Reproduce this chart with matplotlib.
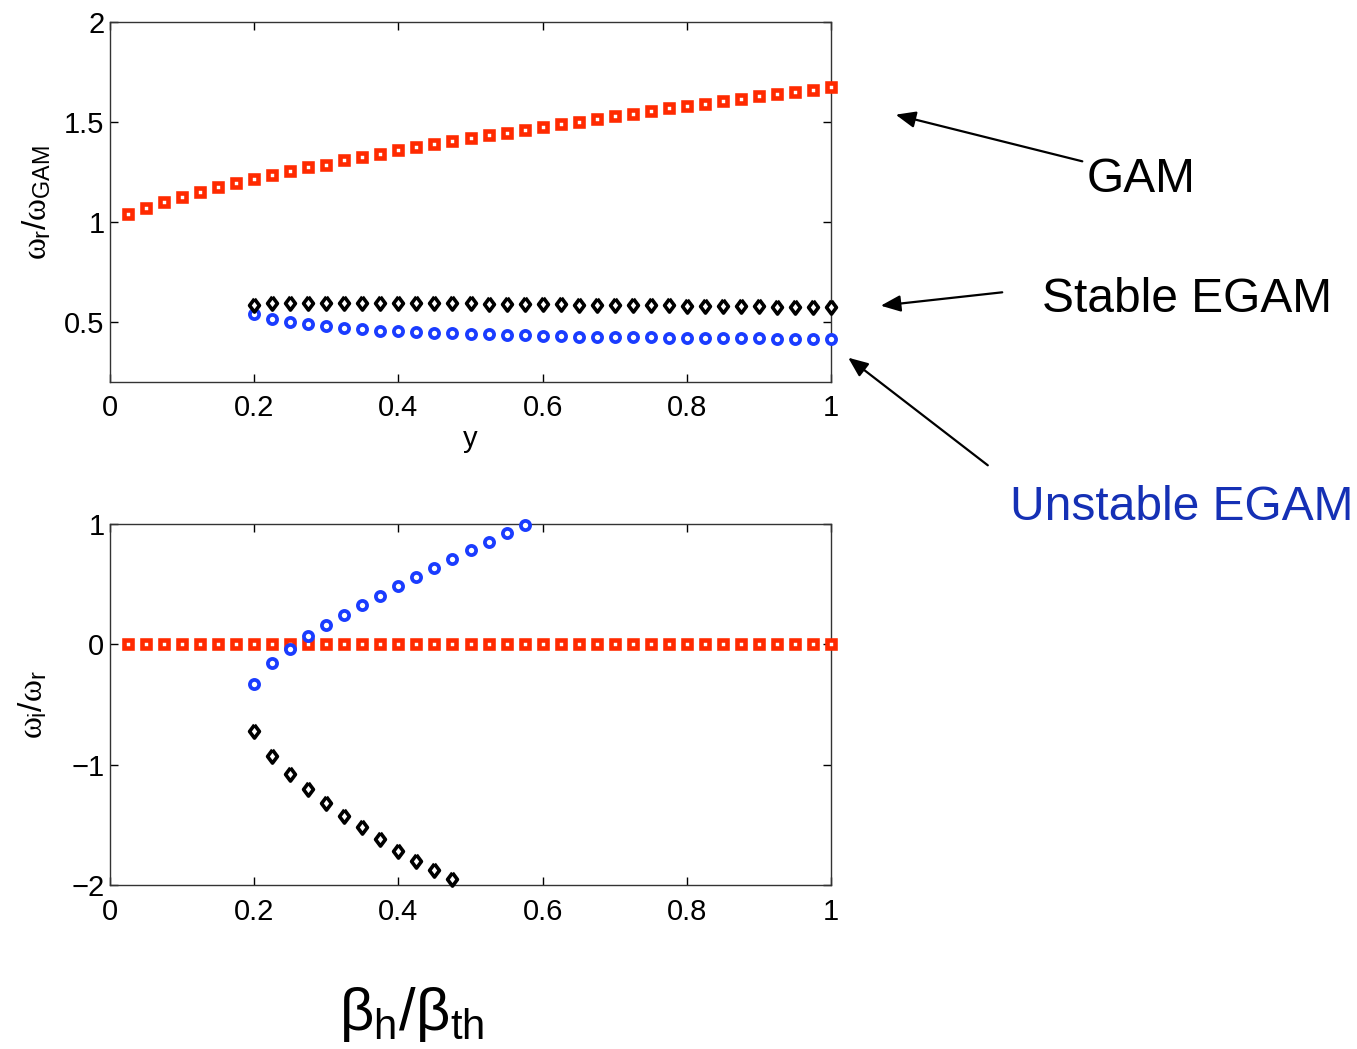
import matplotlib

matplotlib.use("Agg")
import matplotlib.pyplot as plt  # noqa: E402
from matplotlib.patches import FancyArrowPatch  # noqa: E402

plt.rcParams["font.family"] = ["Liberation Sans", "DejaVu Sans"]
# upright omega, sans subscripts (MATLAB-like labels)
plt.rcParams["mathtext.fontset"] = "custom"
plt.rcParams["mathtext.rm"] = "Liberation Sans"
plt.rcParams["mathtext.it"] = "Liberation Serif"
plt.rcParams["mathtext.sf"] = "Liberation Sans"

# --- data ------------------------------------------------------------------
beta_gam = [0.025 * k for k in range(1, 41)]
gam_wr = [1.039, 1.071, 1.099, 1.127, 1.150, 1.173, 1.195, 1.215, 1.235, 1.257,
          1.273, 1.287, 1.309, 1.327, 1.340, 1.359, 1.374, 1.389, 1.404, 1.419,
          1.433, 1.447, 1.462, 1.475, 1.488, 1.502, 1.515, 1.530, 1.542, 1.555,
          1.568, 1.582, 1.592, 1.603, 1.617, 1.630, 1.640, 1.652, 1.662, 1.675]
gam_wi = [0.0] * 40

beta_egam = [0.2 + 0.025 * k for k in range(33)]
stable_wr = [0.585, 0.593, 0.597, 0.597, 0.597, 0.597, 0.597, 0.597, 0.597,
             0.597, 0.597, 0.595, 0.593, 0.592, 0.591, 0.590, 0.588, 0.588,
             0.587, 0.587, 0.586, 0.585, 0.584, 0.583, 0.582, 0.581, 0.580,
             0.579, 0.578, 0.577, 0.576, 0.575, 0.573]
unstable_wr = [0.538, 0.515, 0.500, 0.490, 0.480, 0.470, 0.463, 0.457, 0.453,
               0.450, 0.447, 0.443, 0.440, 0.438, 0.437, 0.433, 0.432, 0.428,
               0.427, 0.427, 0.425, 0.423, 0.423, 0.422, 0.422, 0.420, 0.420,
               0.418, 0.418, 0.417, 0.417, 0.417, 0.415]

beta_unstable_wi = [0.2 + 0.025 * k for k in range(16)]
unstable_wi = [-0.327, -0.158, -0.038, 0.067, 0.158, 0.244, 0.324, 0.405,
               0.482, 0.557, 0.635, 0.710, 0.781, 0.853, 0.922, 0.989]
beta_stable_wi = [0.2 + 0.025 * k for k in range(12)]
stable_wi = [-0.721, -0.928, -1.078, -1.203, -1.319, -1.424, -1.521, -1.621,
             -1.715, -1.798, -1.879, -1.953]

# --- styling -----------------------------------------------------------------
W, H = 1357, 1049
RED = "#ff2a00"
BLUE = "#1a3cff"
diamond = [(0, 1), (0.75, 0), (0, -1), (-0.75, 0), (0, 1)]
sq_kw = dict(ls="none", marker="s", ms=6.2, mew=3.3, mec=RED, mfc="white", clip_on=False, zorder=3)
ci_kw = dict(ls="none", marker="o", ms=6.6, mew=2.7, mec=BLUE, mfc="white", clip_on=False, zorder=3)
di_kw = dict(ls="none", marker=diamond, ms=9.5, mew=2.6, mec="black", mfc="white", clip_on=False, zorder=4)


def px_box(left, top, right, bottom):
    return [left / W, 1 - bottom / H, (right - left) / W, (bottom - top) / H]


def px(x, y):
    return (x / W, 1 - y / H)


def style_axes(ax):
    ax.tick_params(direction="in", length=6, width=1, top=True, right=True,
                   labelsize=21)
    ax.tick_params(axis="x", pad=9)
    ax.tick_params(axis="y", pad=4)
    for s in ax.spines.values():
        s.set_linewidth(1.0)
        s.set_color("#333333")
    ax.set_xlim(0, 1)
    ax.set_xticks([0, 0.2, 0.4, 0.6, 0.8, 1])
    ax.set_xticklabels(["0", "0.2", "0.4", "0.6", "0.8", "1"])


fig = plt.figure(figsize=(W / 100, H / 100), dpi=100)

ax1 = fig.add_axes(px_box(110, 22, 831, 382))
ax1.plot(beta_gam, gam_wr, **sq_kw)
ax1.plot(beta_egam, stable_wr, **di_kw)
ax1.plot(beta_egam, unstable_wr, **ci_kw)
style_axes(ax1)
ax1.set_ylim(0.2, 2)
ax1.set_yticks([0.5, 1, 1.5, 2])
ax1.set_yticklabels(["0.5", "1", "1.5", "2"])
ax1.set_xlabel("y", fontsize=21, labelpad=2)
ax1.set_ylabel(r"$\omega_{\mathrm{r}}/\omega_{\mathrm{GAM}}$", fontsize=24, labelpad=8)

ax2 = fig.add_axes(px_box(110, 524, 831, 885))
ax2.plot(beta_gam, gam_wi, **sq_kw)
ax2.plot(beta_unstable_wi, unstable_wi, **ci_kw)
ax2.plot(beta_stable_wi, stable_wi, **di_kw)
style_axes(ax2)
ax2.set_ylim(-2, 1)
ax2.set_yticks([-2, -1, 0, 1])
ax2.set_yticklabels(["\u22122", "\u22121", "0", "1"])
ax2.set_ylabel(r"$\omega_{\mathrm{i}}/\omega_{\mathrm{r}}$", fontsize=24, labelpad=16)

fig.text(*px(412, 1015), r"$\mathrm{\beta_{h}/\beta_{th}}$",
         fontsize=43, ha="center", va="center")

# annotations
fig.text(*px(1087, 180), "GAM", fontsize=34.5, ha="left", va="center")
fig.text(*px(1042, 300), "Stable EGAM", fontsize=34.5, ha="left", va="center")
fig.text(*px(1010, 508), "Unstable EGAM", fontsize=34.5, ha="left", va="center",
         color="#1530b5")

for start, end in [((1085, 162), (893, 114)),
                   ((1005, 292), (878, 306)),
                   ((990, 467), (846, 356))]:
    fig.add_artist(FancyArrowPatch(px(*start), px(*end), transform=fig.transFigure,
                                   arrowstyle="-|>,head_length=12,head_width=5",
                                   mutation_scale=1, lw=1.6, color="black"))

fig.savefig("out.png", dpi=100)
